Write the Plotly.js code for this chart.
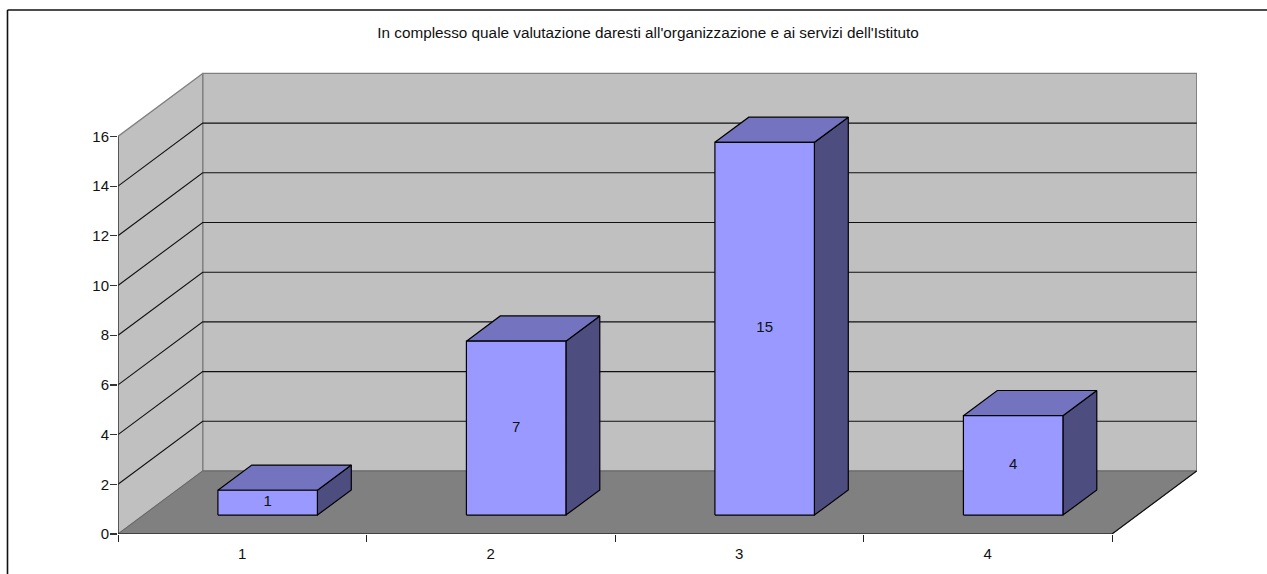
<!DOCTYPE html>
<html>
<head>
<meta charset="utf-8">
<script src="https://cdn.plot.ly/plotly-3.0.1.min.js"></script>
<style>html,body{margin:0;padding:0;background:#fff;overflow:hidden}</style>
</head>
<body>
<div id="chart" style="width:1267px;height:574px"></div>
<script>
const titleText = "In complesso quale valutazione daresti all'organizzazione e ai servizi dell'Istituto";
const categories = ["1", "2", "3", "4"];
const values = [1, 7, 15, 4];
const yTicks = [0, 2, 4, 6, 8, 10, 12, 14, 16];
const yMax = 16;

// Oblique projection of the Excel-style 3D box, in data units
const pxPerCat = 248.5, pxPerVal = 24.85;
const depthX = 84.7 / pxPerCat, depthY = 63 / pxPerVal;
const barW = 99.5 / pxPerCat, dFront = 0.30, dBack = 0.70;
const nCat = categories.length;
const P = (x, y, d) => [x + d * depthX, y + d * depthY];

function poly(points, fill, line, lw) {
  const pts = points.concat([points[0]]);
  return {
    type: 'scatter', mode: 'lines', x: pts.map(p => p[0]), y: pts.map(p => p[1]),
    fill: 'toself', fillcolor: fill, line: {color: line, width: lw === undefined ? 1 : lw},
    hoverinfo: 'skip', cliponaxis: false
  };
}
function seg(points, color, w) {
  return {
    type: 'scatter', mode: 'lines', x: points.map(p => p[0]), y: points.map(p => p[1]),
    line: {color: color, width: w === undefined ? 1 : w}, hoverinfo: 'skip', cliponaxis: false
  };
}

const traces = [];
// back wall, side wall, floor
traces.push(poly([P(0,0,1), P(nCat,0,1), P(nCat,yMax,1), P(0,yMax,1)], '#C0C0C0', '#808080', 1.3));
traces.push(poly([P(0,0,0), P(0,0,1), P(0,yMax,1), P(0,yMax,0)], '#C0C0C0', '#808080', 1.3));
traces.push(poly([P(0,0,0), P(nCat,0,0), P(nCat,0,1), P(0,0,1)], '#808080', '#666666', 1));
// gridlines
yTicks.filter(v => v > 0 && v < yMax).forEach(v => {
  traces.push(seg([P(0,v,0), P(0,v,1), P(nCat,v,1)], '#111111', 1.1));
});
// axis lines
traces.push(seg([P(0,0,0), P(0,yMax,0)], '#333333', 1.3));
traces.push(seg([P(0,0,0), P(nCat,0,0), P(nCat,0,1)], '#111111', 1.2));
// bars
values.forEach((v, i) => {
  const x0 = i + 0.5 - barW / 2, x1 = i + 0.5 + barW / 2;
  traces.push(poly([P(x1,0,dFront), P(x1,0,dBack), P(x1,v,dBack), P(x1,v,dFront)], '#4D4D80', '#000000', 1.2));
  traces.push(poly([P(x0,v,dFront), P(x1,v,dFront), P(x1,v,dBack), P(x0,v,dBack)], '#7373BF', '#000000', 1.2));
  traces.push(poly([P(x0,0,dFront), P(x1,0,dFront), P(x1,v,dFront), P(x0,v,dFront)], '#9999FF', '#000000', 1.2));
});
// data labels
const sans = 'Liberation Sans, Arial, sans-serif';
traces.push({
  type: 'scatter', mode: 'text',
  x: values.map((v, i) => P(i + 0.5, v / 2, dFront)[0]),
  y: values.map((v, i) => P(i + 0.5, v / 2, dFront)[1]),
  text: values.map(String), textposition: 'middle center',
  textfont: {family: sans, size: 15, color: '#111'},
  hoverinfo: 'skip', cliponaxis: false
});

const W = 1267, H = 574, mL = 118, mT = 72, mB = 40, mR = 70;
const plotW = W - mL - mR, plotH = H - mT - mB;
const px = v => (v - mL) / plotW, py = v => 1 - (v - mT) / plotH;
const font = {family: sans, size: 15, color: '#111'};

Plotly.newPlot('chart', traces, {
  width: W, height: H, showlegend: false,
  margin: {l: mL, r: mR, t: mT, b: mB, pad: 0},
  paper_bgcolor: '#fff', plot_bgcolor: 'rgba(0,0,0,0)',
  font: font,
  title: {text: titleText, font: {family: sans, size: 15.3, color: '#111'}, x: 648 / W, xanchor: 'center', y: 1 - 33 / H, yanchor: 'middle'},
  xaxis: {
    range: [0, plotW / pxPerCat], showgrid: false, zeroline: false, showline: false, fixedrange: true,
    tickmode: 'array', tickvals: categories.map((c, i) => i + 0.5), ticktext: categories,
    ticks: '', ticklabelstandoff: 9, tickfont: font,
    minor: {tickmode: 'array', tickvals: categories.map((c, i) => i).concat([nCat]), ticks: 'outside', ticklen: 7, tickcolor: '#222', tickwidth: 1, showgrid: false}
  },
  yaxis: {
    range: [0, plotH / pxPerVal], showgrid: false, zeroline: false, showline: false, fixedrange: true,
    tickmode: 'array', tickvals: yTicks, ticks: 'outside', ticklen: 7, tickcolor: '#333', tickwidth: 1.2, tickfont: font,
    ticklabelstandoff: -2
  },
  shapes: [
    {type: 'line', xref: 'paper', yref: 'paper', x0: px(7.5), x1: px(7.5), y0: py(10), y1: py(580), line: {color: '#111', width: 1.6}},
    {type: 'line', xref: 'paper', yref: 'paper', x0: px(7.5), x1: px(1270), y0: py(10), y1: py(10), line: {color: '#111', width: 1.6}}
  ]
}, {displayModeBar: false, staticPlot: true});
</script>
</body>
</html>
